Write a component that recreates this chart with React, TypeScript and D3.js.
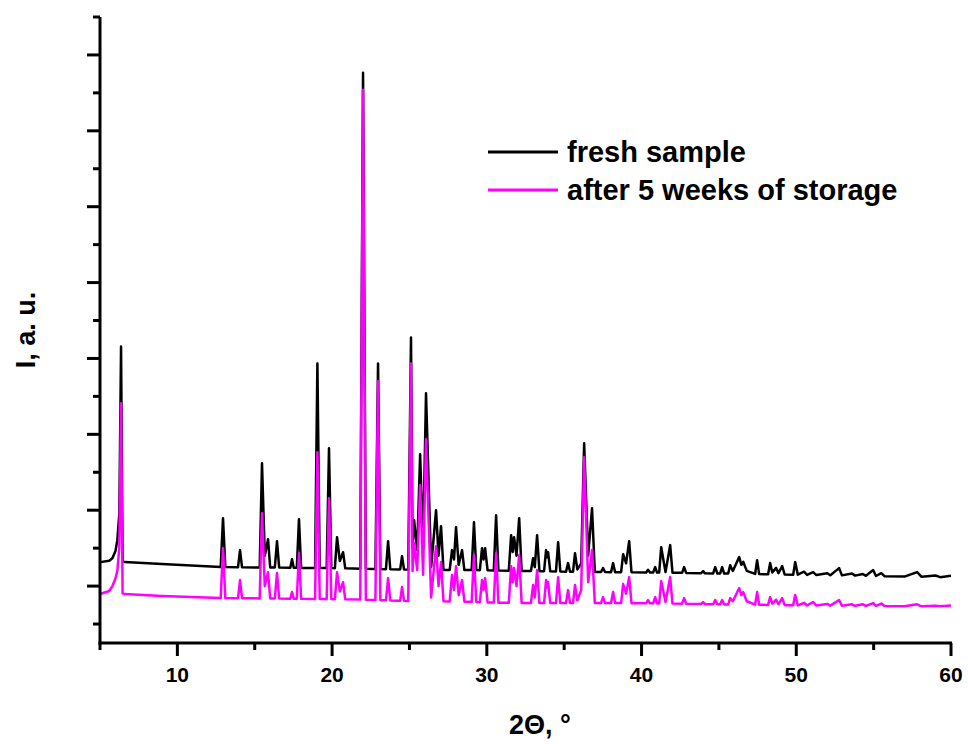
import React from "react";
import * as d3 from "d3";

// 2θ positions of the trace vertices (degrees)
const twoTheta = [
  5.0, 5.6, 5.8, 6.0, 6.12, 6.25, 6.36, 6.46, 6.6, 9.0, 12.8,
  12.95, 13.1, 13.92, 14.05, 14.18, 15.32, 15.47, 15.65, 15.86, 16.0, 16.3, 16.44, 16.58, 17.3, 17.41, 17.52, 17.72, 17.86, 18.0,
  18.9, 19.05, 19.2, 19.65, 19.8, 19.95, 20.18, 20.32, 20.5, 20.71, 20.85, 21.82, 22.0, 22.18, 22.8, 22.97, 23.12, 23.48, 23.62, 23.76, 24.4, 24.52, 24.65, 24.92,
  25.1, 25.2, 25.3, 25.5, 25.69, 25.88, 26.07, 26.4, 26.72, 26.88, 27.04, 27.2, 27.6, 27.75, 27.88, 28.01, 28.18, 28.4, 28.55, 29.02, 29.17, 29.32, 29.55, 29.69, 29.79, 29.89, 30.05,
  30.45, 30.6, 30.75, 31.42, 31.57, 31.67, 31.76, 31.92, 32.09, 32.25, 32.85, 32.99, 33.1, 33.25, 33.4, 33.7, 33.83, 33.9, 33.96, 34.1, 34.47, 34.61, 34.75, 35.12, 35.25, 35.38, 35.57, 35.7, 35.85, 36.1, 36.29, 36.55, 36.8, 36.98,
  37.38, 37.51, 37.64, 38.03, 38.16, 38.29, 38.68, 38.81, 39.0, 39.2, 39.35, 40.3, 40.42, 40.55, 40.75, 40.88, 41.0, 41.14, 41.27, 41.55, 41.85, 42.0, 42.62, 42.75, 42.88, 43.85, 43.98, 44.1, 44.63, 44.76, 44.9, 45.08, 45.21, 45.34, 45.6, 45.73, 45.9, 46.31, 46.45, 46.57, 46.8,
  47.34, 47.47, 47.6, 48.18, 48.31, 48.45, 48.7, 48.85, 49.09, 49.25, 49.8, 49.93, 50.1, 50.5, 50.7, 51.09, 51.3, 52.0, 52.2, 52.77, 52.95, 53.6, 53.8, 54.3, 54.5, 54.97, 55.15, 55.5, 55.7, 57.0, 57.81, 58.1, 59.0, 59.3, 60.0,
];

// intensity, fresh sample (a. u.)
const freshSample = [
  1316, 1335, 1368, 1461, 1605, 1960, 4158, 1330, 1316, 1290, 1250,
  1895, 1250, 1247, 1474, 1247, 1245, 2619, 1400, 1618, 1245, 1245, 1592, 1244, 1242, 1355, 1242, 1241, 1882, 1240,
  1239, 3935, 1238, 1237, 2816, 1237, 1236, 1645, 1330, 1447, 1234, 1230, 7764, 1229, 1226, 3935, 1225, 1223, 1592, 1222, 1220, 1395, 1218, 1217,
  4277, 1500, 1869, 1474, 2737, 1500, 3540, 1250, 2000, 1400, 1790, 1212, 1212, 1474, 1350, 1776, 1280, 1474, 1211, 1211, 1842, 1211, 1210, 1500, 1350, 1500, 1208,
  1207, 1934, 1205, 1203, 1671, 1450, 1645, 1400, 1895, 1200, 1198, 1368, 1250, 1671, 1196, 1196, 1474, 1380, 1447, 1194, 1193, 1579, 1192, 1190, 1303, 1189, 1188, 1434, 1220, 1300, 2882, 1400, 2026, 1186,
  1185, 1237, 1185, 1184, 1303, 1184, 1184, 1421, 1300, 1592, 1182, 1180, 1215, 1179, 1179, 1250, 1178, 1178, 1513, 1184, 1540, 1176, 1175, 1250, 1174, 1170, 1197, 1168, 1167, 1250, 1166, 1166, 1250, 1165, 1165, 1276, 1200, 1382, 1280, 1320, 1200,
  1160, 1342, 1158, 1156, 1303, 1180, 1240, 1170, 1263, 1153, 1150, 1316, 1150, 1190, 1148, 1184, 1145, 1170, 1143, 1237, 1141, 1165, 1138, 1160, 1135, 1211, 1133, 1170, 1130, 1125, 1184, 1122, 1140, 1118, 1135,
];

// intensity, after 5 weeks of storage (a. u.)
const afterStorage = [
  895, 935, 1000, 1100, 1200, 1513, 3408, 905, 895, 870, 842,
  1500, 842, 840, 1079, 840, 838, 1961, 1000, 1184, 838, 838, 1171, 836, 834, 921, 834, 833, 1434, 832,
  831, 2763, 830, 829, 2158, 829, 828, 1184, 930, 1053, 826, 822, 7541, 820, 817, 3698, 815, 813, 1105, 811, 808, 987, 806, 805,
  3935, 1200, 1566, 1211, 2329, 1150, 2935, 850, 1526, 1000, 1316, 800, 798, 1145, 950, 1263, 880, 1079, 795, 792, 1408, 790, 788, 1079, 950, 1105, 785,
  783, 1434, 781, 779, 1263, 1050, 1237, 1000, 1408, 777, 777, 1013, 850, 1211, 776, 776, 1079, 980, 1053, 776, 776, 1118, 776, 776, 947, 776, 776, 1013, 810, 950, 2698, 1050, 1474, 776,
  776, 855, 776, 776, 921, 776, 776, 1026, 900, 1118, 775, 774, 816, 773, 773, 855, 772, 772, 1066, 790, 1118, 770, 768, 842, 767, 764, 789, 762, 761, 816, 760, 760, 816, 759, 759, 842, 800, 974, 880, 920, 800,
  755, 921, 754, 752, 855, 770, 820, 760, 842, 748, 746, 882, 746, 780, 745, 790, 743, 765, 742, 816, 741, 760, 740, 760, 739, 776, 738, 770, 737, 735, 760, 734, 740, 733, 745,
];

const xMajorTicks = [10, 20, 30, 40, 50, 60];
const xMinorTicks = [5, 15, 25, 35, 45, 55];
const yMajorTicks = [1000, 2000, 3000, 4000, 5000, 6000, 7000, 8000];
const yMinorTicks = [500, 1500, 2500, 3500, 4500, 5500, 6500, 7500, 8500];
const seriesNames = ["fresh sample", "after 5 weeks of storage"];
const seriesColors = ["#000000", "#ff00ff"];

const W = 968;
const H = 744;
const LEFT = 100;
const RIGHT = 951;
const TOP = 17;
const BOTTOM = 643;
const FONT = "'Liberation Sans', Arial, Helvetica, sans-serif";

export default function App() {
  const x = d3.scaleLinear().domain([5, 60]).range([LEFT, RIGHT]);
  const y = d3.scaleLinear().domain([250, 8500]).range([BOTTOM, TOP]);

  const n = Math.min(twoTheta.length, freshSample.length, afterStorage.length);
  const idx = d3.range(n);
  const line = (vals: number[]) =>
    d3
      .line<number>()
      .x((i) => x(twoTheta[i]))
      .y((i) => y(vals[i]))(idx) || "";

  const series = [freshSample, afterStorage];

  return (
    <svg
      width={W}
      height={H}
      style={{ position: "absolute", left: 0, top: 0, background: "#fff" }}
    >
      <rect x={0} y={0} width={W} height={H} fill="#fff" />
      {series.map((s, k) => (
        <path
          key={k}
          d={line(s)}
          fill="none"
          stroke={seriesColors[k]}
          strokeWidth={2.5}
          strokeLinejoin="round"
        />
      ))}

      {/* axes */}
      <line x1={LEFT} y1={TOP} x2={LEFT} y2={BOTTOM + 1.5} stroke="#000" strokeWidth={3} />
      <line x1={LEFT - 1.5} y1={BOTTOM} x2={RIGHT + 1} y2={BOTTOM} stroke="#000" strokeWidth={3} />

      {yMajorTicks.map((t) => (
        <line key={"ym" + t} x1={LEFT - 13} x2={LEFT} y1={y(t)} y2={y(t)} stroke="#000" strokeWidth={3} />
      ))}
      {yMinorTicks.map((t) => (
        <line key={"yn" + t} x1={LEFT - 7} x2={LEFT} y1={y(t)} y2={y(t)} stroke="#000" strokeWidth={3} />
      ))}
      {xMajorTicks.map((t) => (
        <g key={"xm" + t}>
          <line x1={x(t)} x2={x(t)} y1={BOTTOM} y2={BOTTOM + 13} stroke="#000" strokeWidth={3} />
          <text
            x={x(t)}
            y={682}
            textAnchor="middle"
            fontFamily={FONT}
            fontWeight="bold"
            fontSize={21}
            fill="#000"
          >
            {t}
          </text>
        </g>
      ))}
      {xMinorTicks.map((t) => (
        <line key={"xn" + t} x1={x(t)} x2={x(t)} y1={BOTTOM} y2={BOTTOM + 7} stroke="#000" strokeWidth={3} />
      ))}

      {/* axis titles */}
      <text
        x={540}
        y={734}
        textAnchor="middle"
        fontFamily={FONT}
        fontWeight="bold"
        fontSize={27}
        fill="#000"
      >
        2Θ, °
      </text>
      <text
        transform={`translate(35, ${(TOP + BOTTOM) / 2}) rotate(-90)`}
        textAnchor="middle"
        fontFamily={FONT}
        fontWeight="bold"
        fontSize={27}
        fill="#000"
      >
        I, a. u.
      </text>

      {/* legend */}
      {seriesNames.map((name, k) => (
        <g key={name} transform={`translate(0, ${k * 38})`}>
          <line x1={488} x2={558} y1={152} y2={152} stroke={seriesColors[k]} strokeWidth={3} />
          <text x={567} y={162} fontFamily={FONT} fontWeight="bold" fontSize={29} fill="#000">
            {name}
          </text>
        </g>
      ))}
    </svg>
  );
}
